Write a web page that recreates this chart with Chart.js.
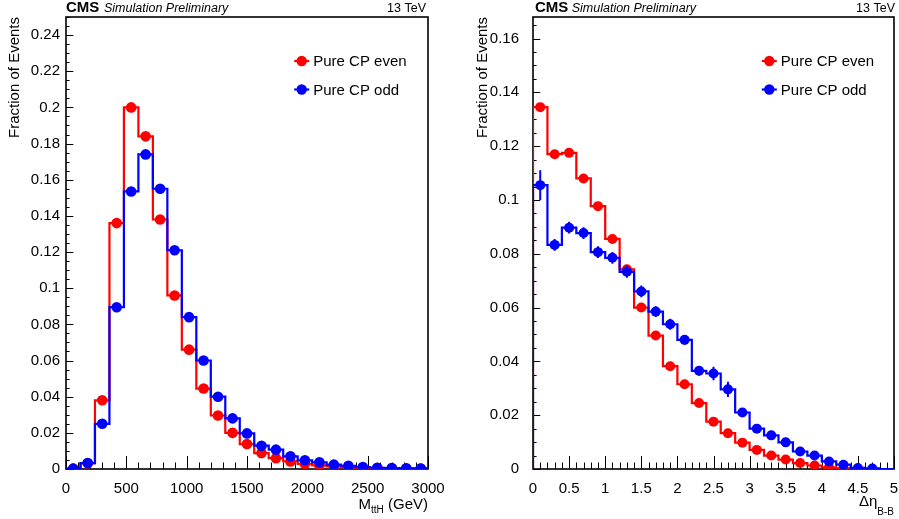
<!DOCTYPE html>
<html>
<head>
<meta charset="utf-8">
<script src="https://cdn.jsdelivr.net/npm/chart.js@4/dist/chart.umd.min.js"></script>
<style>
html, body { margin: 0; padding: 0; background: #fff; }
#wrap { position: relative; width: 899px; height: 519px; }
#c1 { position: absolute; left: 0; top: 0; }
#c2 { position: absolute; left: 450px; top: 0; }
</style>
</head>
<body>
<div id="wrap">
	<canvas id="c1" width="450" height="519"></canvas>
	<canvas id="c2" width="449" height="519"></canvas>
</div>
<script>
const FONT = "'Liberation Sans', Arial, Helvetica, sans-serif";
Chart.defaults.font.family = FONT;
Chart.defaults.color = "#000";

const legendLabels = ["Pure CP even", "Pure CP odd"];
const RED = "#ff0000";
const BLUE = "#0000ff";

// M_ttH, 25 bins of 120 GeV
const massCenters = [60, 180, 300, 420, 540, 660, 780, 900, 1020, 1140, 1260, 1380, 1500,
	1620, 1740, 1860, 1980, 2100, 2220, 2340, 2460, 2580, 2700, 2820, 2940];
const massBinWidth = 120;
const massEven = [0.0002, 0.0032, 0.038, 0.136, 0.2, 0.184, 0.138, 0.096, 0.066, 0.0445, 0.0296, 0.02, 0.0138,
	0.0088, 0.006, 0.0042, 0.0028, 0.002, 0.0014, 0.001, 0.0007, 0.0005, 0.0004, 0.0003, 0.0002];
const massOdd = [0.0002, 0.0033, 0.025, 0.0895, 0.1535, 0.174, 0.155, 0.121, 0.084, 0.06, 0.04, 0.028, 0.0197,
	0.0129, 0.0107, 0.007, 0.0048, 0.0037, 0.0024, 0.0018, 0.0011, 0.0007, 0.0005, 0.0004, 0.0003];

// delta eta B-B, 25 bins of 0.2
const etaCenters = [0.1, 0.3, 0.5, 0.7, 0.9, 1.1, 1.3, 1.5, 1.7, 1.9, 2.1, 2.3, 2.5,
	2.7, 2.9, 3.1, 3.3, 3.5, 3.7, 3.9, 4.1, 4.3, 4.5, 4.7, 4.9];
const etaBinWidth = 0.2;
const etaEven = [0.1345, 0.117, 0.1175, 0.108, 0.0977, 0.0855, 0.0742, 0.06, 0.0496, 0.0382, 0.0315, 0.0245, 0.0176,
	0.0133, 0.0098, 0.0071, 0.005, 0.0035, 0.0022, 0.0013, 0.0006, 0.0002, 0, 0, 0];
const etaOdd = [0.1055, 0.0833, 0.0897, 0.0877, 0.0806, 0.0785, 0.0733, 0.066, 0.0585, 0.0538, 0.048, 0.0365, 0.0355,
	0.0296, 0.021, 0.015, 0.0125, 0.0099, 0.0065, 0.005, 0.0028, 0.0016, 0.0004, 0.0002, 0];
const etaOddErr = [0.0055, 0.0022, 0.0022, 0.0022, 0.0022, 0.0022, 0.0022, 0.0022, 0.002, 0.002, 0.0018, 0.0018, 0.0025,
	0.0028, 0.0015, 0.0012, 0.001, 0.001, 0.0008, 0.0007, 0.0005, 0.0004, 0.0002, 0.0001, 0];

// histogram outline: start at left edge from 0, step at every bin edge, back to 0
function stepPoints(centers, values, width) {
	const pts = [{ x: centers[0] - width / 2, y: 0 }];
	centers.forEach((c, i) => pts.push({ x: c - width / 2, y: values[i] }));
	pts.push({ x: centers[centers.length - 1] + width / 2, y: 0 });
	return pts;
}

function markerPoints(centers, values) {
	return centers.map((c, i) => ({ x: c, y: values[i] })).filter((p) => p.y > 0);
}

function fmt(v) {
	return String(Math.round(v * 1000) / 1000);
}

const rootStyle = {
	id: "rootStyle",
	beforeDatasetsDraw(chart, args, o) {
		const { ctx, chartArea: a, scales: { x, y } } = chart;
		ctx.save();
		ctx.strokeStyle = "#000";
		ctx.lineWidth = 1;
		ctx.beginPath();
		const nx = Math.round((x.max - x.min) / o.xMinor);
		const rx = Math.round(o.xMajor / o.xMinor);
		for (let i = 0; i <= nx; i++) {
			const px = Math.round(x.getPixelForValue(x.min + i * o.xMinor)) + 0.5;
			ctx.moveTo(px, a.bottom);
			ctx.lineTo(px, a.bottom - (i % rx === 0 ? 13 : 6.5));
		}
		const ny = Math.floor((y.max - y.min) / o.yMinor + 1e-6);
		const ry = Math.round(o.yMajor / o.yMinor);
		for (let i = 0; i <= ny; i++) {
			const py = Math.round(y.getPixelForValue(y.min + i * o.yMinor)) + 0.5;
			ctx.moveTo(a.left, py);
			ctx.lineTo(a.left + (i % ry === 0 ? 7.3 : 3.6), py);
		}
		ctx.stroke();
		ctx.lineWidth = 1.6;
		ctx.strokeRect(a.left, a.top, a.right - a.left, a.bottom - a.top);
		ctx.restore();
	},
	beforeDatasetDraw(chart, args, o) {
		if (!o.errors || args.index !== o.errors.dataset) return;
		const { ctx, scales: { x, y } } = chart;
		ctx.save();
		ctx.strokeStyle = o.errors.color;
		ctx.lineWidth = 2;
		ctx.beginPath();
		o.errors.centers.forEach((c, i) => {
			const v = o.errors.values[i];
			const e = o.errors.errs[i];
			if (v <= 0 || !e) return;
			const px = x.getPixelForValue(c);
			ctx.moveTo(px, y.getPixelForValue(v - e));
			ctx.lineTo(px, y.getPixelForValue(v + e));
		});
		ctx.stroke();
		ctx.restore();
	},
	afterDraw(chart, args, o) {
		const { ctx, chartArea: a } = chart;
		ctx.save();
		ctx.fillStyle = "#000";
		ctx.textBaseline = "alphabetic";
		// header
		ctx.textAlign = "left";
		ctx.font = "bold 15px " + FONT;
		ctx.fillText("CMS", o.header.cmsX, 12);
		ctx.font = "italic 12.5px " + FONT;
		ctx.fillText("Simulation Preliminary", o.header.simX, 12);
		ctx.textAlign = "right";
		ctx.font = "12.5px " + FONT;
		ctx.fillText("13 TeV", o.header.tevX, 12);

		// x title with subscript, right aligned to the frame
		ctx.textAlign = "left";
		const parts = o.xTitle;
		let total = 0;
		parts.forEach((p) => {
			ctx.font = p.size + "px " + FONT;
			total += ctx.measureText(p.text).width;
		});
		let tx = a.right - total;
		parts.forEach((p) => {
			ctx.font = p.size + "px " + FONT;
			ctx.fillText(p.text, tx, p.base);
			tx += ctx.measureText(p.text).width;
		});

		// legend
		const lg = o.legend;
		legendLabels.forEach((label, i) => {
			const ly = lg.y + i * lg.dy;
			const col = lg.colors[i];
			ctx.strokeStyle = col;
			ctx.fillStyle = col;
			ctx.lineWidth = 2.2;
			ctx.beginPath();
			ctx.moveTo(lg.x - 7.5, ly);
			ctx.lineTo(lg.x + 7.5, ly);
			ctx.stroke();
			ctx.beginPath();
			ctx.arc(lg.x, ly, 5.2, 0, Math.PI * 2);
			ctx.fill();
			ctx.fillStyle = "#000";
			ctx.font = "15px " + FONT;
			ctx.textBaseline = "middle";
			ctx.fillText(label, lg.textX, ly + 1);
		});
		ctx.restore();
	},
};

function makeHist(canvasId, p) {
	const datasets = [
		{
			label: legendLabels[1] + " points",
			data: markerPoints(p.centers, p.odd),
			backgroundColor: BLUE,
			borderWidth: 0,
			pointRadius: p.radius,
			order: 0,
		},
		{
			label: legendLabels[1],
			data: stepPoints(p.centers, p.odd, p.binWidth),
			showLine: true,
			stepped: "before",
			borderColor: BLUE,
			borderWidth: 2.2,
			pointRadius: 0,
			order: 1,
		},
		{
			label: legendLabels[0] + " points",
			data: markerPoints(p.centers, p.even),
			backgroundColor: RED,
			borderWidth: 0,
			pointRadius: p.radius,
			order: 2,
		},
		{
			label: legendLabels[0],
			data: stepPoints(p.centers, p.even, p.binWidth),
			showLine: true,
			stepped: "before",
			borderColor: RED,
			borderWidth: 2.2,
			pointRadius: 0,
			order: 3,
		},
	];

	new Chart(document.getElementById(canvasId), {
		type: "scatter",
		data: { datasets: datasets },
		plugins: [rootStyle],
		options: {
			responsive: false,
			animation: false,
			events: [],
			layout: { padding: { left: 0, right: p.padRight, top: 17, bottom: 0 } },
			plugins: {
				legend: { display: false },
				tooltip: { enabled: false },
				rootStyle: {
					xMinor: p.xMinor, xMajor: p.xStep, yMinor: 0.005, yMajor: 0.02,
					header: p.header,
					xTitle: p.xTitle,
					legend: { x: p.legendX, textX: p.legendX + 11.5, y: 61, dy: 28.5, colors: [RED, BLUE] },
					errors: p.errors,
				},
			},
			scales: {
				x: {
					type: "linear",
					min: 0,
					max: p.xMax,
					grid: { display: false, drawTicks: false },
					border: { display: false },
					ticks: {
						stepSize: p.xStep,
						padding: 11,
						maxRotation: 0,
						autoSkip: false,
						font: { size: 15 },
						callback: (v) => fmt(v),
					},
					afterFit: (s) => {
						s.height = 50;
						s.paddingLeft = 0;
						s.paddingRight = 0;
					},
				},
				y: {
					min: 0,
					max: p.yMax,
					grid: { display: false, drawTicks: false },
					border: { display: false },
					ticks: {
						stepSize: 0.02,
						includeBounds: false,
						padding: p.yLabelPad,
						font: { size: 15 },
						callback: (v) => fmt(v),
					},
					title: {
						display: true,
						text: "Fraction of Events",
						align: "end",
						font: { size: 15 },
						padding: { top: p.yTitlePad, bottom: 0 },
					},
					afterFit: (s) => {
						s.width = p.yWidth;
						s.paddingTop = 0;
						s.paddingBottom = 0;
					},
				},
			},
		},
	});
}

makeHist("c1", {
	centers: massCenters, even: massEven, odd: massOdd, binWidth: massBinWidth,
	xMax: 3000, xStep: 500, xMinor: 100, yMax: 0.25,
	yWidth: 66, padRight: 22, yLabelPad: 6, yTitlePad: 6, radius: 5.3,
	legendX: 301.7,
	header: { cmsX: 66, simX: 104, tevX: 426 },
	xTitle: [
		{ text: "M", size: 15, base: 509 },
		{ text: "ttH", size: 10, base: 512.5 },
		{ text: " (GeV)", size: 15, base: 509 },
	],
	errors: null,
});

makeHist("c2", {
	centers: etaCenters, even: etaEven, odd: etaOdd, binWidth: etaBinWidth,
	xMax: 5, xStep: 0.5, xMinor: 0.1, yMax: 0.168,
	yWidth: 83, padRight: 4, yLabelPad: 14, yTitlePad: 24, radius: 5,
	legendX: 319.3,
	header: { cmsX: 85, simX: 121.7, tevX: 445 },
	xTitle: [
		{ text: "\u0394\u03b7", size: 15, base: 506 },
		{ text: "B-B", size: 10, base: 515 },
	],
	errors: { dataset: 0, color: BLUE, centers: etaCenters, values: etaOdd, errs: etaOddErr },
});
</script>
</body>
</html>
